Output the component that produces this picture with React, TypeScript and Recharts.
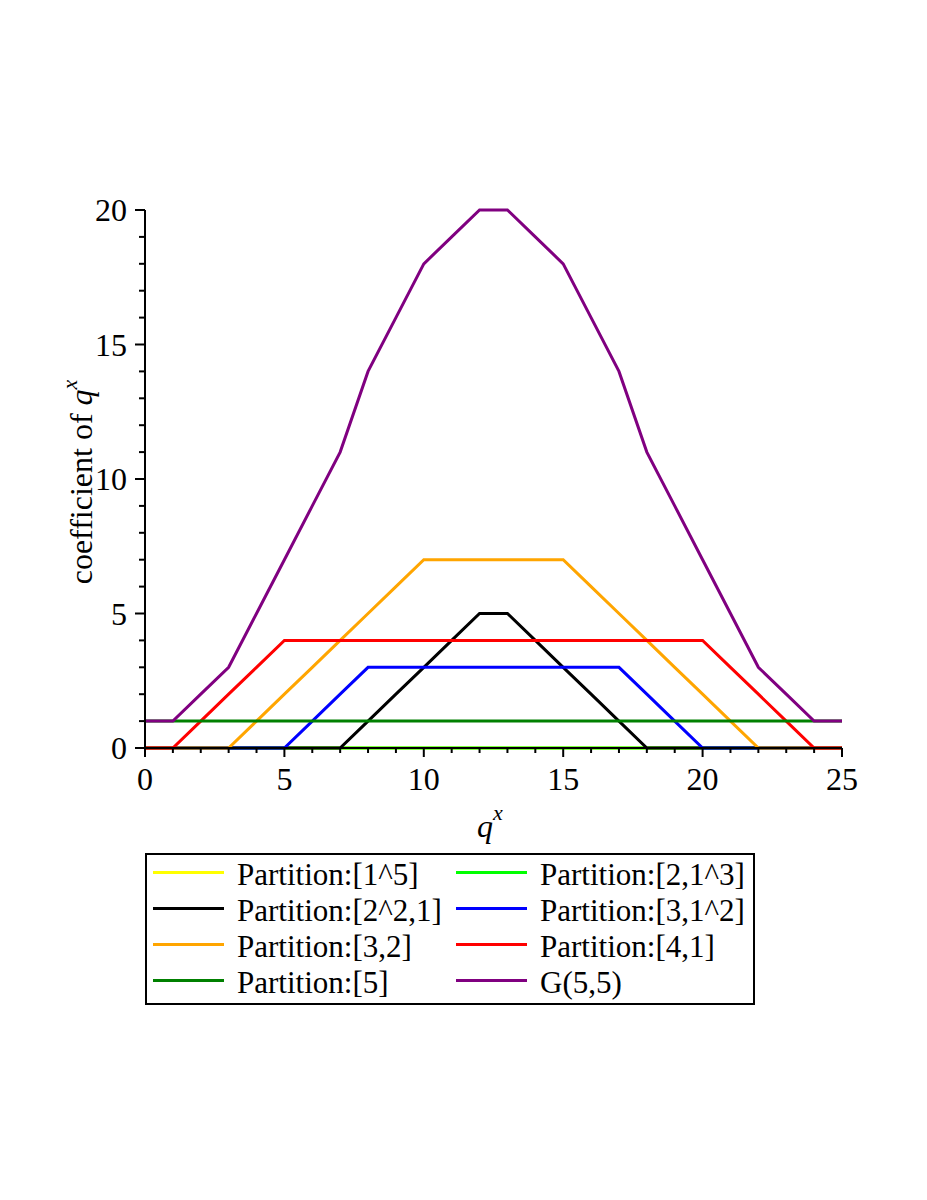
import React from "react";
import { LineChart, Line, XAxis, YAxis, Label } from "recharts";

// exponent of q
const powers = [0, 1, 2, 3, 4, 5, 6, 7, 8, 9, 10, 11, 12, 13, 14, 15, 16, 17, 18, 19, 20, 21, 22, 23, 24, 25];

// coefficients per partition
const part1_5 = [0, 0, 0, 0, 0, 0, 0, 0, 0, 0, 0, 0, 0, 0, 0, 0, 0, 0, 0, 0, 0, 0, 0, 0, 0, 0];
const part2_1_3 = [0, 0, 0, 0, 0, 0, 0, 0, 0, 0, 0, 0, 0, 0, 0, 0, 0, 0, 0, 0, 0, 0, 0, 0, 0, 0];
const part2_2_1 = [0, 0, 0, 0, 0, 0, 0, 0, 1, 2, 3, 4, 5, 5, 4, 3, 2, 1, 0, 0, 0, 0, 0, 0, 0, 0];
const part3_1_2 = [0, 0, 0, 0, 0, 0, 1, 2, 3, 3, 3, 3, 3, 3, 3, 3, 3, 3, 2, 1, 0, 0, 0, 0, 0, 0];
const part3_2 = [0, 0, 0, 0, 1, 2, 3, 4, 5, 6, 7, 7, 7, 7, 7, 7, 6, 5, 4, 3, 2, 1, 0, 0, 0, 0];
const part4_1 = [0, 0, 1, 2, 3, 4, 4, 4, 4, 4, 4, 4, 4, 4, 4, 4, 4, 4, 4, 4, 4, 3, 2, 1, 0, 0];
const part5 = [1, 1, 1, 1, 1, 1, 1, 1, 1, 1, 1, 1, 1, 1, 1, 1, 1, 1, 1, 1, 1, 1, 1, 1, 1, 1];
const gauss5_5 = [1, 1, 2, 3, 5, 7, 9, 11, 14, 16, 18, 19, 20, 20, 19, 18, 16, 14, 11, 9, 7, 5, 3, 2, 1, 1];

const xTicks = powers;
const yTicks = [0, 1, 2, 3, 4, 5, 6, 7, 8, 9, 10, 11, 12, 13, 14, 15, 16, 17, 18, 19, 20];

const series = [
  { key: "p1", name: "Partition:[1^5]", color: "#ffff00", values: part1_5 },
  { key: "p2", name: "Partition:[2,1^3]", color: "#00ff00", values: part2_1_3 },
  { key: "p3", name: "Partition:[2^2,1]", color: "#000000", values: part2_2_1 },
  { key: "p4", name: "Partition:[3,1^2]", color: "#0000ff", values: part3_1_2 },
  { key: "p5", name: "Partition:[3,2]", color: "#ffa500", values: part3_2 },
  { key: "p6", name: "Partition:[4,1]", color: "#ff0000", values: part4_1 },
  { key: "p7", name: "Partition:[5]", color: "#008000", values: part5 },
  { key: "p8", name: "G(5,5)", color: "#800080", values: gauss5_5 },
];

const data = powers.map((x, i) => {
  const row: Record<string, number> = { x };
  series.forEach((s) => (row[s.key] = s.values[i]));
  return row;
});

const FONT = '"Liberation Serif", "Times New Roman", serif';
const FS = 32;

function XTick(props: any) {
  const { x, y, payload } = props;
  const major = payload.value % 5 === 0;
  return (
    <g>
      <line x1={x} y1={y} x2={x} y2={y + (major ? 9 : 5)} stroke="#000" strokeWidth={2} />
      {major && (
        <text x={x} y={y + 42} textAnchor="middle" fontSize={FS} fontFamily={FONT} fill="#000">
          {payload.value}
        </text>
      )}
    </g>
  );
}

function YTick(props: any) {
  const { x, y, payload } = props;
  const major = payload.value % 5 === 0;
  return (
    <g>
      <line x1={x} y1={y} x2={x - (major ? 10 : 6)} y2={y} stroke="#000" strokeWidth={2} />
      {major && (
        <text x={x - 18} y={y + 11} textAnchor="end" fontSize={FS} fontFamily={FONT} fill="#000">
          {payload.value}
        </text>
      )}
    </g>
  );
}

function YTitle() {
  const cx = 84;
  const cy = 474;
  return (
    <text
      x={cx}
      y={cy}
      transform={`rotate(-90 ${cx} ${cy})`}
      textAnchor="middle"
      fontSize={FS}
      fontFamily={FONT}
      fill="#000"
    >
      coefficient of <tspan fontStyle="italic">q</tspan>
      <tspan fontStyle="italic" fontSize={22} dy={-15}>x</tspan>
    </text>
  );
}

function XTitle() {
  return (
    <text x={482} y={829} textAnchor="middle" fontSize={FS} fontFamily={FONT} fill="#000">
      <tspan fontStyle="italic">q</tspan>
      <tspan fontStyle="italic" fontSize={22} dy={-17}>x</tspan>
    </text>
  );
}

export default function App() {
  const rows = [0, 1, 2, 3];
  return (
    <div style={{ position: "relative", width: 911, height: 1100, background: "#fff" }}>
      <LineChart width={900} height={850} data={data} margin={{ top: 202, right: 66, bottom: 0, left: 0 }}>
        <XAxis
          dataKey="x"
          type="number"
          domain={[0, 25]}
          ticks={xTicks}
          interval={0}
          tickSize={0}
          tickMargin={0}
          tickLine={false}
          tick={<XTick />}
          axisLine={{ stroke: "#000", strokeWidth: 2 }}
          height={110}
        >
          <Label content={<XTitle />} />
        </XAxis>
        <YAxis
          type="number"
          domain={[0, 20]}
          ticks={yTicks}
          interval={0}
          tickSize={0}
          tickMargin={0}
          tickLine={false}
          tick={<YTick />}
          axisLine={{ stroke: "#000", strokeWidth: 2 }}
          width={137}
        >
          <Label content={<YTitle />} />
        </YAxis>
        {series.map((s) => (
          <Line
            key={s.key}
            dataKey={s.key}
            name={s.name}
            type="linear"
            stroke={s.color}
            strokeWidth={3}
            dot={false}
            activeDot={false}
            isAnimationActive={false}
          />
        ))}
      </LineChart>
      <div
        style={{
          position: "absolute",
          left: 137,
          top: 845,
          width: 606,
          height: 146,
          border: "2px solid #000",
          fontFamily: FONT,
          fontSize: 31,
          display: "flex",
          flexDirection: "column",
          paddingTop: 2,
          whiteSpace: "nowrap",
        }}
      >
        {rows.map((r) => (
          <div key={r} style={{ display: "flex", height: 36, alignItems: "center" }}>
            {[series[r * 2], series[r * 2 + 1]].map((s, c) => (
              <div
                key={s.key}
                style={{
                  display: "flex",
                  alignItems: "center",
                  width: c === 0 ? 303 : 303,
                  lineHeight: "36px",
                  flexShrink: 0,
                }}
              >
                <div
                  style={{
                    marginLeft: 6,
                    width: 71,
                    height: 3,
                    background: s.color,
                    marginRight: 13,
                    marginTop: -6,
                    flexShrink: 0,
                  }}
                />
                <span>{s.name}</span>
              </div>
            ))}
          </div>
        ))}
      </div>
    </div>
  );
}
